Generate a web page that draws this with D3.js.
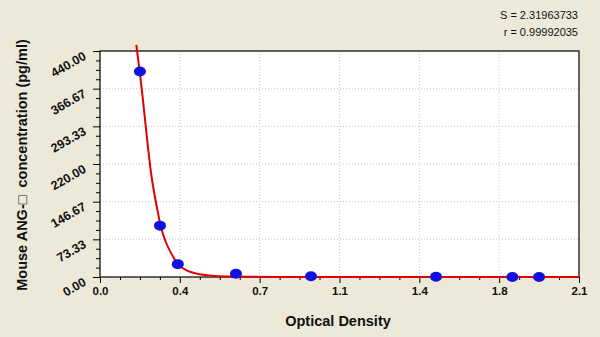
<script src="https://d3js.org/d3.v7.min.js"></script>

<style>
  body { margin: 0; background: #ece9d8; }
  svg { font-family: Arial, "Liberation Sans", sans-serif; }
</style>

<body>
  <div id="vis"></div>
</body>

<script>
  // Standard points
  let pointOD = [0.175, 0.263, 0.341, 0.596, 0.925, 1.473, 1.808, 1.925]
  let pointConc = [400, 100, 25, 6.25, 1.56, 0.39, 0.1, 0]

  // Fitted curve, sampled by eye
  let curveOD = [0.159, 0.175, 0.193, 0.210, 0.224, 0.237, 0.252, 0.266, 0.285, 0.311, 0.343, 0.377, 0.430, 0.504, 0.614, 0.745, 1.0, 1.5, 2.1]
  let curveConc = [452, 397, 325, 254, 202, 165, 130, 100, 72, 47, 24.7, 13.6, 5.8, 1.9, 0.8, 0, 0, 0, 0]

  let xTicks = [0, 0.35, 0.7, 1.05, 1.4, 1.75, 2.1]
  let xTickLabels = ['0.0', '0.4', '0.7', '1.1', '1.4', '1.8', '2.1']
  let yTicks = [0, 73.33, 146.67, 220, 293.33, 366.67, 440]
  let yTickLabels = ['0.00', '73.33', '146.67', '220.00', '293.33', '366.67', '440.00']

  let statLines = ['S = 2.31963733', 'r = 0.99992035']

  const width = 600
  const height = 337
  const plotLeft = 100, plotRight = 579, plotTop = 51, plotBottom = 277

  let svg = d3.select('#vis').append('svg')
    .attr('width', width)
    .attr('height', height)

  let x = d3.scaleLinear().domain([0, 2.1]).range([plotLeft, plotRight])
  let y = d3.scaleLinear().domain([0, 440]).range([plotBottom, plotTop])

  // plot area
  svg.append('rect')
    .attr('x', plotLeft).attr('y', plotTop)
    .attr('width', plotRight - plotLeft).attr('height', plotBottom - plotTop)
    .attr('fill', 'white')

  // grid lines
  svg.append('g').selectAll('line')
    .data(xTicks.slice(1, -1))
    .enter().append('line')
    .attr('x1', d => x(d)).attr('x2', d => x(d))
    .attr('y1', plotTop).attr('y2', plotBottom)
    .attr('stroke', '#c8c8c8')
    .attr('stroke-dasharray', '1,2')

  svg.append('g').selectAll('line')
    .data(yTicks.slice(1, -1))
    .enter().append('line')
    .attr('y1', d => y(d)).attr('y2', d => y(d))
    .attr('x1', plotLeft).attr('x2', plotRight)
    .attr('stroke', '#c8c8c8')
    .attr('stroke-dasharray', '1,2')

  // minor ticks: 4 steps between majors
  let xMinor = d3.range(0, 24).map(i => i * 0.0875).filter((d, i) => i % 4 !== 0)
  let yMinor = d3.range(0, 24).map(i => i * 440 / 24).filter((d, i) => i % 4 !== 0)

  // x axis
  let xAxis = svg.append('g')
    .attr('transform', 'translate(0,' + plotBottom + ')')
    .call(d3.axisBottom(x).tickValues(xTicks).tickFormat((d, i) => xTickLabels[i]).tickSize(6).tickPadding(4))
  xAxis.select('.domain').remove()
  xAxis.selectAll('text')
    .attr('font-size', 11.5)
    .attr('font-weight', 'bold')
    .attr('fill', '#111')
  svg.append('g')
    .attr('transform', 'translate(0,' + plotBottom + ')')
    .call(d3.axisBottom(x).tickValues(xMinor).tickFormat('').tickSize(3))
    .select('.domain').remove()

  // y axis
  let yAxis = svg.append('g')
    .attr('transform', 'translate(' + plotLeft + ',0)')
    .call(d3.axisLeft(y).tickValues(yTicks).tickFormat((d, i) => yTickLabels[i]).tickSize(7))
  yAxis.select('.domain').remove()
  yAxis.selectAll('text')
    .attr('font-size', 12.5)
    .attr('font-weight', 'bold')
    .attr('fill', '#111')
    .attr('x', null).attr('dy', null)
    .attr('text-anchor', 'end')
    .attr('transform', 'translate(-13,7) rotate(-30)')
  svg.append('g')
    .attr('transform', 'translate(' + plotLeft + ',0)')
    .call(d3.axisLeft(y).tickValues(yMinor).tickFormat('').tickSize(4))
    .select('.domain').remove()

  // frame
  svg.append('rect')
    .attr('x', plotLeft).attr('y', plotTop)
    .attr('width', plotRight - plotLeft).attr('height', plotBottom - plotTop)
    .attr('fill', 'none')
    .attr('stroke', 'black')
    .attr('stroke-width', 1.2)

  // fitted curve
  let curveData = curveOD.map((d, i) => [d, curveConc[i]])
  svg.append('path')
    .datum(curveData)
    .attr('d', d3.line().x(d => x(d[0])).y(d => y(d[1])).curve(d3.curveCatmullRom.alpha(0.5)))
    .attr('fill', 'none')
    .attr('stroke', '#e00000')
    .attr('stroke-width', 2)

  // points
  svg.append('g').selectAll('ellipse')
    .data(pointOD)
    .enter().append('ellipse')
    .attr('cx', d => x(d))
    .attr('cy', (d, i) => y(pointConc[i]))
    .attr('rx', 6).attr('ry', 5)
    .attr('fill', '#1010e0')

  // titles
  svg.append('text')
    .attr('x', 338).attr('y', 326)
    .attr('text-anchor', 'middle')
    .attr('font-size', 14.5)
    .attr('font-weight', 'bold')
    .attr('fill', '#111')
    .text('Optical Density')

  svg.append('text')
    .attr('transform', 'translate(27,165) rotate(-90)')
    .attr('text-anchor', 'middle')
    .attr('font-size', 14.5)
    .attr('font-weight', 'bold')
    .attr('fill', '#111')
    .text('Mouse ANG-\u25A1\u00A0\u00A0concentration (pg/ml)')

  svg.append('g').selectAll('text')
    .data(statLines)
    .enter().append('text')
    .attr('x', 578)
    .attr('y', (d, i) => 19 + i * 17)
    .attr('text-anchor', 'end')
    .attr('font-size', 11)
    .attr('fill', '#111')
    .text(d => d)
</script>
